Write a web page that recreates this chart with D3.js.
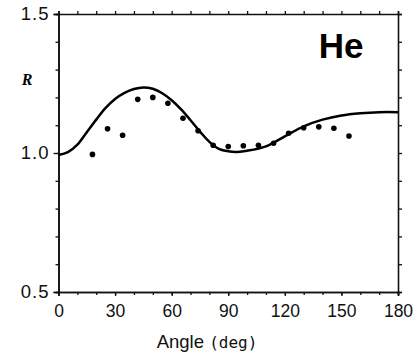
<!DOCTYPE html>
<html>
<head>
<meta charset="utf-8">
<script src="https://cdn.jsdelivr.net/npm/d3@7"></script>
<style>
  html, body { margin: 0; padding: 0; background: #fff; }
  svg { display: block; }
  .axis path, .axis line { stroke: #111; }
  .axis text { fill: #111; }
</style>
</head>
<body>
<div id="chart"></div>
<script>
// measured points (angle in deg, ratio R)
const pointAngles = [18, 26, 34, 42, 50, 58, 66, 74, 82, 90, 98, 106, 114, 122, 130, 138, 146, 154];
const pointValues = [0.995, 1.087, 1.064, 1.193, 1.200, 1.179, 1.125, 1.080, 1.028, 1.023, 1.026, 1.028, 1.035, 1.071, 1.091, 1.094, 1.089, 1.061];

// theory curve
const curveAngles = [0, 5, 10, 15, 20, 25, 30, 35, 40, 45, 50, 55, 60, 65, 70, 75, 80, 85, 90, 95, 100, 110, 120, 130, 140, 150, 160, 170, 180];
const curveValues = [0.993, 1.003, 1.030, 1.075, 1.120, 1.162, 1.194, 1.216, 1.230, 1.236, 1.231, 1.215, 1.190, 1.157, 1.118, 1.077, 1.040, 1.015, 1.006, 1.004, 1.008, 1.024, 1.060, 1.096, 1.120, 1.135, 1.143, 1.147, 1.147];

const xMajorTicks = [0, 30, 60, 90, 120, 150, 180];
const yMajorTicks = [0.5, 1.0, 1.5];

const width = 417, height = 358;
const margin = { top: 14, right: 19, bottom: 66, left: 58.5 };
const innerWidth = width - margin.left - margin.right;
const innerHeight = height - margin.top - margin.bottom;

const svg = d3.select('#chart')
    .append('svg')
    .attr('width', width)
    .attr('height', height);

const g = svg.append('g')
    .attr('transform', `translate(${margin.left},${margin.top})`);

const x = d3.scaleLinear().domain([0, 180]).range([0, innerWidth]);
const y = d3.scaleLinear().domain([0.5, 1.5]).range([innerHeight, 0]);

const xMinor = d3.range(0, 181, 10);
const yMinor = d3.range(0.5, 1.501, 0.1);

const noText = sel => sel.selectAll('text').remove();

// minor ticks, all four sides
g.append('g').attr('class', 'axis').attr('transform', `translate(0,${innerHeight})`)
    .call(d3.axisBottom(x).tickValues(xMinor).tickSize(3)).call(noText);
g.append('g').attr('class', 'axis')
    .call(d3.axisTop(x).tickValues(xMinor).tickSize(3)).call(noText);
g.append('g').attr('class', 'axis')
    .call(d3.axisLeft(y).tickValues(yMinor).tickSize(3)).call(noText);
g.append('g').attr('class', 'axis').attr('transform', `translate(${innerWidth},0)`)
    .call(d3.axisRight(y).tickValues(yMinor).tickSize(4)).call(noText);

// major ticks with labels
g.append('g').attr('class', 'axis').attr('transform', `translate(0,${innerHeight})`)
    .call(d3.axisBottom(x).tickValues(xMajorTicks).tickSize(4).tickPadding(9).tickFormat(d3.format('d')))
    .attr('font-size', 17.5)
    .attr('font-family', '"Liberation Sans", Arial, sans-serif');

g.append('g').attr('class', 'axis')
    .call(d3.axisLeft(y).tickValues(yMajorTicks).tickSize(5).tickPadding(4).tickFormat(d3.format('.1f')))
    .attr('font-size', 18.5)
    .attr('letter-spacing', 1)
    .attr('font-family', '"Liberation Sans", Arial, sans-serif');

g.selectAll('.axis path').attr('stroke-width', 1.6);
g.selectAll('.axis line').attr('stroke-width', 1.3);

// theory line
const line = d3.line()
    .x((d, i) => x(curveAngles[i]))
    .y(d => y(d))
    .curve(d3.curveCatmullRom.alpha(0.5));

g.append('path')
    .datum(curveValues)
    .attr('d', line)
    .attr('fill', 'none')
    .attr('stroke', '#000')
    .attr('stroke-width', 2.5);

// data points
g.selectAll('.dot')
    .data(pointValues)
    .enter()
    .append('circle')
    .attr('class', 'dot')
    .attr('cx', (d, i) => x(pointAngles[i]))
    .attr('cy', d => y(d))
    .attr('r', 2.8)
    .attr('fill', '#000');

// labels
svg.append('text')
    .attr('x', 27).attr('y', 85)
    .attr('text-anchor', 'middle')
    .style('font-family', '"Liberation Serif", "Times New Roman", serif')
    .style('font-weight', 'bold').style('font-style', 'italic')
    .style('font-size', '16px')
    .text('R');

svg.append('text')
    .attr('x', 341).attr('y', 58)
    .attr('text-anchor', 'middle')
    .style('font-family', '"Liberation Sans", Arial, sans-serif')
    .style('font-weight', 'bold')
    .style('font-size', '35px')
    .text('He');

const xLabel = svg.append('text')
    .attr('x', 207).attr('y', 348)
    .attr('text-anchor', 'middle')
    .style('font-family', '"Liberation Sans", Arial, sans-serif')
    .style('font-size', '18.5px')
    .attr('fill', '#111');
xLabel.append('tspan').text('Angle ');
xLabel.append('tspan')
    .style('font-family', '"DejaVu Sans Mono", monospace')
    .style('font-size', '16px')
    .text('(deg)');
</script>
</body>
</html>
